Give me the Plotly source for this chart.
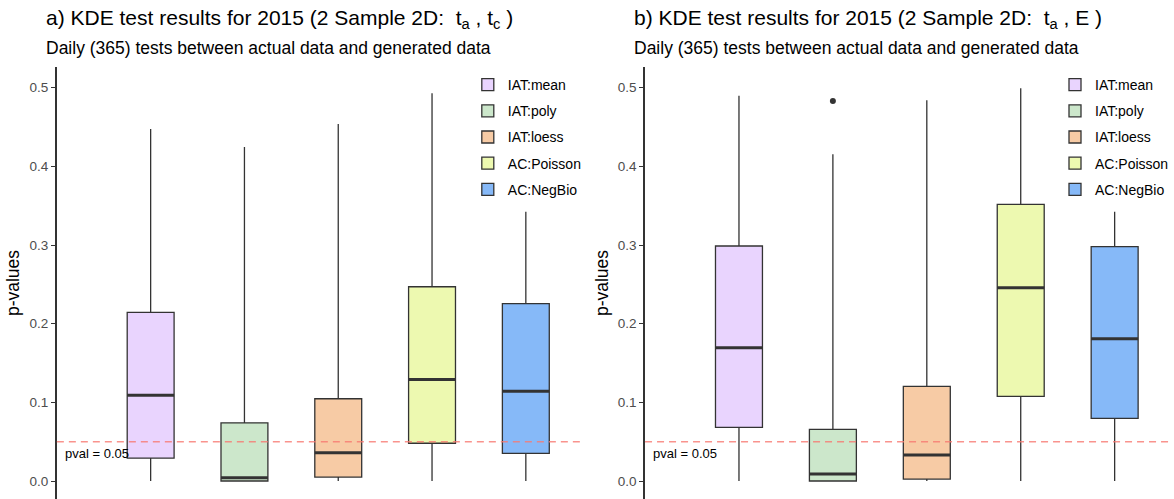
import plotly.graph_objects as go

W, H = 1174, 499

methods = ["IAT:mean", "IAT:poly", "IAT:loess", "AC:Poisson", "AC:NegBio"]
positions = [1, 2, 3, 4, 5]
fills = ["#E9D4FE", "#CCE7CB", "#F7CBA5", "#EDF9B0", "#86B9F8"]

# panel a) t_a , t_c
a_low = [0.0, 0.0, 0.0, 0.0, 0.0]
a_q1 = [0.029, 0.0, 0.005, 0.048, 0.035]
a_med = [0.109, 0.004, 0.036, 0.129, 0.114]
a_q3 = [0.2145, 0.074, 0.1046, 0.247, 0.2254]
a_high = [0.4476, 0.4247, 0.4539, 0.4929, 0.3424]

# panel b) t_a , E
b_low = [0.0, 0.0, 0.0, 0.0, 0.0]
b_q1 = [0.0683, 0.0, 0.0025, 0.1077, 0.0797]
b_med = [0.1695, 0.0089, 0.0331, 0.2458, 0.1809]
b_q3 = [0.2988, 0.0657, 0.1204, 0.3518, 0.2979]
b_high = [0.4899, 0.4154, 0.484, 0.4993, 0.3424]
b_outlier_x = [2]
b_outlier_y = [0.4832]

pval = 0.05
box_w = 0.5

tick_vals = [0, 0.1, 0.2, 0.3, 0.4, 0.5]
tick_text = ["0.0", "0.1", "0.2", "0.3", "0.4", "0.5"]

titles = [
    "a) KDE test results for 2015 (2 Sample 2D:  t<sub>a</sub> , t<sub>c</sub> )",
    "b) KDE test results for 2015 (2 Sample 2D:  t<sub>a</sub> , E )",
]
subtitle = "Daily (365) tests between actual data and generated data"

fig = go.Figure()

panels = [
    ("x", "y", "legend", a_low, a_q1, a_med, a_q3, a_high),
    ("x2", "y2", "legend2", b_low, b_q1, b_med, b_q3, b_high),
]
for xa, ya, lg, low, q1, med, q3, high in panels:
    for i, name in enumerate(methods):
        fig.add_trace(go.Box(
            x=[positions[i]], q1=[q1[i]], median=[med[i]], q3=[q3[i]],
            lowerfence=[low[i]], upperfence=[high[i]],
            width=box_w, whiskerwidth=0, boxpoints=False,
            fillcolor=fills[i], line=dict(color="#333333", width=1.3),
            name=name, legend=lg, legendgroup=lg + name,
            xaxis=xa, yaxis=ya, hoverinfo="skip",
        ))
    for i in range(len(methods)):
        fig.add_trace(go.Scatter(
            x=[positions[i] - box_w / 2, positions[i] + box_w / 2],
            y=[med[i], med[i]], mode="lines",
            line=dict(color="#333333", width=3),
            showlegend=False, xaxis=xa, yaxis=ya, hoverinfo="skip",
        ))

fig.add_trace(go.Scatter(
    x=b_outlier_x, y=b_outlier_y, mode="markers",
    marker=dict(color="#333333", size=6), showlegend=False,
    xaxis="x2", yaxis="y2", hoverinfo="skip",
))

top_px = 67
ydom = [0, (H - top_px) / H]
y0_px, k = 481, 786.5
yr = [(y0_px - H) / k, (y0_px - top_px) / k]

xdom1 = [57 / W, 583.6 / W]
xdom2 = [646.7 / W, 1.0]
xr = [0, 5.6]

def yaxis_cfg(anchor):
    return dict(domain=ydom, range=yr, anchor=anchor, tickvals=tick_vals, ticktext=tick_text,
                ticks="outside", ticklen=4, tickcolor="#333333",
                tickfont=dict(size=13.5, color="#4D4D4D"),
                title=dict(text="p-values", font=dict(size=17.5, color="#000000"), standoff=5),
                showgrid=False, zeroline=False, showline=True,
                linecolor="#333333", linewidth=1.5)

def xaxis_cfg(dom):
    return dict(domain=dom, range=xr, showticklabels=False, ticks="",
                showline=False, showgrid=False, zeroline=False)

def legend_cfg(xpx):
    return dict(x=xpx / W, y=(H - 69) / H, xanchor="left", yanchor="top",
                bgcolor="rgba(0,0,0,0)", font=dict(size=14, color="#000000"),
                tracegroupgap=5, traceorder="grouped")

fig.update_layout(
    width=W, height=H, margin=dict(l=0, r=0, t=0, b=0),
    paper_bgcolor="white", plot_bgcolor="white",
    font=dict(family="Liberation Sans, Arial, sans-serif", color="#000000"),
    xaxis=xaxis_cfg(xdom1), xaxis2=xaxis_cfg(xdom2),
    yaxis=yaxis_cfg("x"), yaxis2=yaxis_cfg("x2"),
    legend=legend_cfg(469), legend2=legend_cfg(1058),
    showlegend=True,
)

for xa, ya in [("x", "y"), ("x2", "y2")]:
    fig.add_shape(type="line", xref=xa + " domain", yref=ya, x0=0, x1=1, y0=pval, y1=pval,
                  line=dict(color="rgba(247,120,112,0.8)", width=1.5, dash="7px,5px"))
    fig.add_annotation(xref=xa, yref=ya, x=0.064, y=0.0356, text="pval = 0.05",
                       showarrow=False, xanchor="left", yanchor="middle",
                       font=dict(size=13, color="#000000"))

for j, dom in enumerate([xdom1, xdom2]):
    fig.add_annotation(xref="paper", yref="paper", x=dom[0] - 13 / W, y=(H - 19) / H,
                       text=titles[j], showarrow=False, xanchor="left", yanchor="middle",
                       font=dict(size=21, color="#000000"))
    fig.add_annotation(xref="paper", yref="paper", x=dom[0] - 13 / W, y=(H - 48) / H,
                       text=subtitle, showarrow=False, xanchor="left", yanchor="middle",
                       font=dict(size=17.5, color="#000000"))

fig.write_html("out.html")
